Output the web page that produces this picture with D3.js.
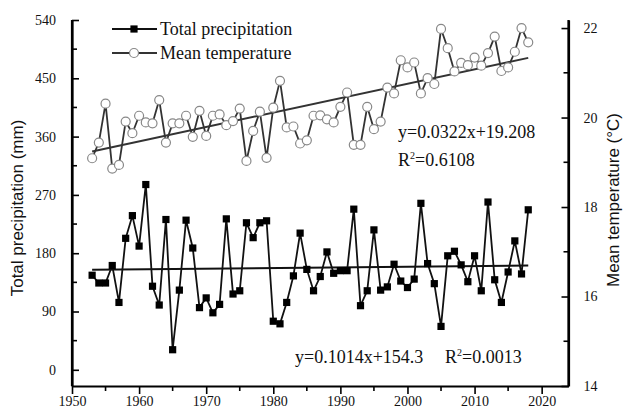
<!DOCTYPE html>
<html>
<head>
<meta charset="utf-8">
<script src="https://cdn.jsdelivr.net/npm/d3@7"></script>
<style>
  body { margin: 0; background: #fff; }
  svg text { fill: #111; }
</style>
</head>
<body>
<div id="chart"></div>
<script>

var years = d3.range(1953, 2019)

var precipitation = [146, 134, 134, 161, 104, 203, 238, 191, 286, 129,
    100, 232, 31, 123, 231, 188, 96, 111, 88, 101,
    233, 117, 122, 227, 204, 227, 230, 75, 71, 104,
    145, 211, 155, 122, 144, 182, 149, 153, 153, 248,
    99, 122, 216, 123, 128, 163, 137, 127, 140, 257,
    164, 133, 67, 176, 183, 162, 136, 176, 122, 259,
    139, 104, 151, 199, 148, 247]

var temperature = [19.09, 19.44, 20.31, 18.86, 18.94, 19.91, 19.65, 20.04, 19.89, 19.87,
    20.39, 19.44, 19.87, 19.87, 20.04, 19.57, 20.15, 19.59, 20.04, 20.07,
    19.83, 19.92, 20.20, 19.03, 19.70, 20.13, 19.10, 20.22, 20.82, 19.78,
    19.80, 19.42, 19.49, 20.04, 20.05, 19.96, 19.89, 20.24, 20.56, 19.39,
    19.39, 20.24, 19.74, 19.91, 20.67, 20.54, 21.28, 21.12, 21.23, 20.54,
    20.88, 20.75, 21.98, 21.55, 21.03, 21.22, 21.17, 21.34, 21.16, 21.44,
    21.81, 21.04, 21.12, 21.47, 22.00, 21.68]

// fitted lines, x = year index starting at 1
var precipFit = {slope: 0.1014, intercept: 154.3}
var tempFit = {slope: 0.0322, intercept: 19.208}

var xTicks = [1950, 1960, 1970, 1980, 1990, 2000, 2010, 2020]
var leftTicks = [0, 90, 180, 270, 360, 450, 540]
var rightTicks = [14, 16, 18, 20, 22]

var width = 627, height = 412

var svg = d3.select("#chart")
    .append("svg")
      .attr("width", width)
      .attr("height", height)

var x = d3.scaleLinear().domain([1950, 2024]).range([72, 568.5])
var yL = d3.scaleLinear().domain([-25, 540]).range([386, 20])
var yR = d3.scaleLinear().domain([14, 22.18]).range([386, 20])

var serif = "'Liberation Serif', 'Times New Roman', serif"
var sans = "'Liberation Sans', Arial, sans-serif"

// axes
var bottomAxis = svg.append("g")
    .attr("transform", "translate(0,386)")
    .call(d3.axisBottom(x).tickValues(xTicks).tickFormat(d3.format("d")).tickSize(8).tickSizeOuter(0).tickPadding(2))
bottomAxis.selectAll("line").attr("stroke-width", 1.6)
bottomAxis.append("g").selectAll("line")
    .data(d3.range(1955, 2024, 10))
    .enter().append("line")
    .attr("x1", d => x(d)).attr("x2", d => x(d))
    .attr("y1", 0).attr("y2", 5)
    .attr("stroke", "#000").attr("stroke-width", 1.6)

var leftAxis = svg.append("g")
    .attr("transform", "translate(72,0)")
    .call(d3.axisLeft(yL).tickValues(leftTicks).tickSize(-7).tickSizeOuter(0).tickPadding(16))
leftAxis.selectAll("line").attr("stroke-width", 1.6)
leftAxis.append("g").selectAll("line")
    .data(d3.range(45, 540, 90))
    .enter().append("line")
    .attr("y1", d => yL(d)).attr("y2", d => yL(d))
    .attr("x1", 0).attr("x2", 5)
    .attr("stroke", "#000").attr("stroke-width", 1.6)

var rightAxis = svg.append("g")
    .attr("transform", "translate(568.5,0)")
    .call(d3.axisRight(yR).tickValues(rightTicks).tickSize(-7).tickSizeOuter(0).tickPadding(15))
rightAxis.selectAll("line").attr("stroke-width", 1.6)
rightAxis.append("g").selectAll("line")
    .data([15, 17, 19, 21])
    .enter().append("line")
    .attr("y1", d => yR(d)).attr("y2", d => yR(d))
    .attr("x1", 0).attr("x2", -5)
    .attr("stroke", "#000").attr("stroke-width", 1.6)

svg.selectAll(".domain").attr("stroke-width", 2.2)
svg.selectAll(".tick text")
    .style("font-family", serif)
    .style("font-size", "14px")
    .attr("fill", "#111")

// the axis domains start at the extreme, extend the left and right ones to the top
svg.append("line").attr("x1", 72).attr("x2", 72).attr("y1", 20).attr("y2", 386)
    .attr("stroke", "#000").attr("stroke-width", 2.2)
svg.append("line").attr("x1", 568.5).attr("x2", 568.5).attr("y1", 20).attr("y2", 386)
    .attr("stroke", "#000").attr("stroke-width", 2.2)

// axis titles
svg.append("text")
    .attr("transform", "translate(23,208) rotate(-90)")
    .attr("text-anchor", "middle")
    .style("font-family", sans)
    .style("font-size", "17px")
    .text("Total precipitation (mm)")

svg.append("text")
    .attr("transform", "translate(619,200) rotate(-90)")
    .attr("text-anchor", "middle")
    .style("font-family", sans)
    .style("font-size", "17px")
    .text("Mean temperature (°C)")

// series lines
var tempLine = d3.line().x((d, i) => x(years[i])).y(d => yR(d))
var precLine = d3.line().x((d, i) => x(years[i])).y(d => yL(d))

svg.append("path")
    .datum(temperature)
    .attr("d", tempLine)
    .attr("fill", "none")
    .attr("stroke", "#333")
    .attr("stroke-width", 1.8)

svg.append("path")
    .datum(precipitation)
    .attr("d", precLine)
    .attr("fill", "none")
    .attr("stroke", "#111")
    .attr("stroke-width", 1.8)

// trend lines
var n = years.length
svg.append("line")
    .attr("x1", x(years[0])).attr("x2", x(years[n - 1]))
    .attr("y1", yR(tempFit.intercept + tempFit.slope * 1))
    .attr("y2", yR(tempFit.intercept + tempFit.slope * n))
    .attr("stroke", "#333").attr("stroke-width", 2)

svg.append("line")
    .attr("x1", x(years[0])).attr("x2", x(years[n - 1]))
    .attr("y1", yL(precipFit.intercept + precipFit.slope * 1))
    .attr("y2", yL(precipFit.intercept + precipFit.slope * n))
    .attr("stroke", "#111").attr("stroke-width", 2)

// markers
svg.append("g").selectAll("circle")
    .data(temperature)
    .enter().append("circle")
    .attr("cx", (d, i) => x(years[i]))
    .attr("cy", d => yR(d))
    .attr("r", 4.5)
    .attr("fill", "#fff")
    .attr("stroke", "#888")
    .attr("stroke-width", 1.2)

svg.append("g").selectAll("rect")
    .data(precipitation)
    .enter().append("rect")
    .attr("x", (d, i) => x(years[i]) - 3.6)
    .attr("y", d => yL(d) - 3.6)
    .attr("width", 7.2)
    .attr("height", 7.2)
    .attr("fill", "#000")

// legend
var legend = svg.append("g")
legend.append("line").attr("x1", 112).attr("x2", 157).attr("y1", 29).attr("y2", 29)
    .attr("stroke", "#111").attr("stroke-width", 1.8)
legend.append("rect").attr("x", 134 - 3.6).attr("y", 29 - 3.6).attr("width", 7.2).attr("height", 7.2)
    .attr("fill", "#000")
legend.append("line").attr("x1", 112).attr("x2", 157).attr("y1", 53).attr("y2", 53)
    .attr("stroke", "#333").attr("stroke-width", 1.8)
legend.append("circle").attr("cx", 134).attr("cy", 53).attr("r", 4.5)
    .attr("fill", "#fff").attr("stroke", "#888").attr("stroke-width", 1.2)

legend.selectAll("text")
    .data(["Total precipitation", "Mean temperature"])
    .enter().append("text")
    .attr("x", 160)
    .attr("y", (d, i) => 35 + i * 24)
    .style("font-family", serif)
    .style("font-size", "18px")
    .text(d => d)

// equations
function eqText(xp, yp, content) {
    var t = svg.append("text")
        .attr("x", xp).attr("y", yp)
        .style("font-family", serif)
        .style("font-size", "18px")
    content(t)
}

eqText(398, 138, t => t.text("y=0.0322x+19.208"))
eqText(398, 166, t => {
    t.append("tspan").text("R")
    t.append("tspan").attr("dy", -7).style("font-size", "10px").text("2")
    t.append("tspan").attr("dy", 7).text("=0.6108")
})
eqText(295, 363, t => t.text("y=0.1014x+154.3"))
eqText(445, 363, t => {
    t.append("tspan").text("R")
    t.append("tspan").attr("dy", -7).style("font-size", "10px").text("2")
    t.append("tspan").attr("dy", 7).text("=0.0013")
})

</script>
</body>
</html>
